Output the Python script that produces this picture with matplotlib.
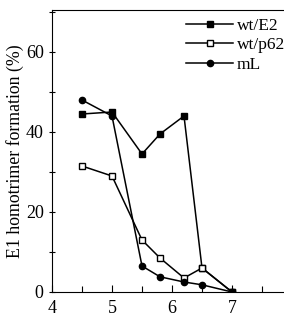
import matplotlib
matplotlib.use("Agg")
import matplotlib.pyplot as plt
from matplotlib.ticker import MultipleLocator

# data
ph = [4.5, 5.0, 5.5, 5.8, 6.2, 6.5, 7.0]
wt_e2 = [44.5, 45, 34.5, 39.5, 44, 6, 0]
wt_p62 = [31.5, 29, 13, 8.5, 3.5, 6, 0]
ml = [48, 44, 6.5, 3.8, 2.5, 1.8, 0]

plt.rcParams["font.family"] = ["Liberation Serif", "DejaVu Serif"]

fig = plt.figure(figsize=(2.84, 3.21), dpi=100)
ax = fig.add_axes([52 / 284, 29 / 321, 240 / 284, 282 / 321])

ax.plot(ph, wt_e2, "-s", color="black", lw=1.1, ms=5, mfc="black", label="wt/E2")
ax.plot(ph, wt_p62, "-s", color="black", lw=1.1, ms=5, mfc="white", label="wt/p62")
ax.plot(ph, ml, "-o", color="black", lw=1.1, ms=4.5, mfc="black", label="mL")

ax.set_xlim(4, 8)
ax.set_ylim(0, 70.5)
ax.set_xticks([4, 5, 6, 7])
ax.set_yticks([0, 20, 40, 60])
ax.xaxis.set_minor_locator(MultipleLocator(0.5))
ax.yaxis.set_minor_locator(MultipleLocator(10))
ax.tick_params(axis="x", which="both", direction="in", labelsize=13, pad=6)
ax.tick_params(axis="y", which="both", direction="inout", labelsize=13)
ax.tick_params(which="major", length=5, width=0.8)
ax.tick_params(which="minor", length=4, width=0.8)
ax.spines["right"].set_visible(False)

ax.set_ylabel("E1 homotrimer formation (%)", fontsize=12.8, labelpad=1)

# the reference crops the legend text at the right edge, so this does too
ax.legend(loc="upper left", bbox_to_anchor=(0.53, 0.998), frameon=False,
          fontsize=12.5, handlelength=2.7, handletextpad=0.2, labelspacing=0.2,
          borderaxespad=0)

fig.savefig("out.png", dpi=100)
